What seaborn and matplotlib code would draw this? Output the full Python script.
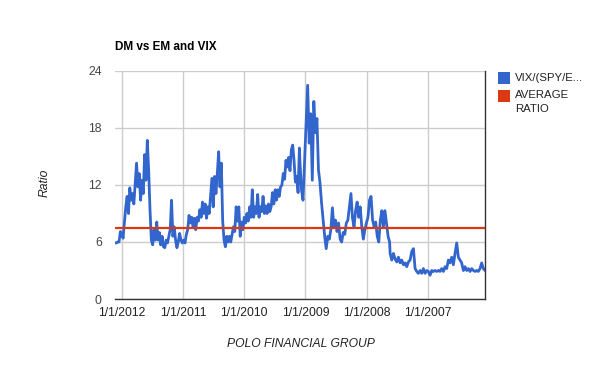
import numpy as np
import pandas as pd
import seaborn as sns
import matplotlib.pyplot as plt
from matplotlib.patches import Rectangle

# ratio readings, newest (left) to oldest (right), in three blocks
ratio_2012_2009 = [
    5.9, 5.9, 6.0, 6.0, 7.1, 6.9, 6.4, 8.0, 9.7, 10.8, 9.0, 11.7, 10.4, 11.1, 10.0, 12.2,
    14.3, 11.8, 13.2, 10.4, 12.5, 11.1, 15.2, 12.5, 16.7, 13.6, 9.4, 6.2, 5.7, 7.3, 6.2,
    8.1, 6.2, 7.0, 5.7, 6.6, 5.5, 5.4, 6.2, 5.9, 6.6, 7.3, 10.4, 6.6, 7.6, 6.2, 5.4, 6.0,
    6.9, 6.2, 5.9, 6.2, 5.9, 6.8, 7.3, 8.8, 8.0, 8.6, 7.6, 8.5, 7.3, 8.6, 8.2, 9.4, 8.6,
    10.2, 9.0, 10.0, 8.5, 9.7, 9.0, 10.8, 12.7, 9.7, 12.9, 11.1, 13.2, 15.5, 11.8, 14.3,
    8.2, 6.2, 5.5, 6.6, 6.0, 6.6, 6.0, 6.8, 7.6, 7.1, 9.7, 8.2, 9.7, 6.6, 8.1, 7.3, 8.6,
    8.0, 9.0, 8.2, 9.7, 8.6, 11.5, 8.6, 9.7, 9.0, 11.0, 8.6, 9.7, 9.2, 10.8, 9.0, 9.8,
    9.0, 10.0, 9.2, 9.7, 11.2, 10.0, 11.5, 10.4, 11.5, 10.8, 11.8, 12.0, 13.2, 12.6,
    14.6, 13.9, 14.9, 13.5, 15.7, 16.2, 14.6, 12.3, 12.9, 11.2, 15.9,
]
ratio_2009_2007 = [
    14.5, 11.5, 10.4, 14.6, 18.5, 22.5, 16.4, 19.5, 12.5, 20.8, 17.5, 19.0, 13.6, 12.2,
    10.1, 8.3, 6.6, 5.3, 6.6, 6.3, 7.3, 9.6, 7.6, 8.3, 7.1, 8.0, 6.3, 6.0, 7.0, 6.8, 8.0,
    8.3, 9.7, 11.1, 8.5, 7.6, 9.3, 10.2, 8.6, 9.7, 7.6, 6.3, 7.3, 8.0, 8.6, 10.4, 10.8,
    8.3, 7.6, 8.1, 6.6, 6.0, 8.3, 9.3, 7.6, 9.3, 8.0, 6.6, 6.0,
]
ratio_2007_2006 = [
    4.8, 4.1, 4.8, 4.2, 3.9, 4.4, 3.8, 4.1, 3.6, 3.8, 3.4, 3.9, 4.1, 5.0, 5.3, 3.2, 2.9,
    2.7, 3.0, 2.7, 3.2, 2.7, 3.0, 2.9, 2.5, 3.0, 2.9, 3.0, 2.9, 3.0, 2.9, 3.2, 2.9, 3.4,
    3.2, 4.1, 3.8, 4.4, 3.6, 4.8, 5.9, 4.4, 4.1, 3.8, 3.0, 3.4, 3.0, 3.2, 2.9, 3.2, 3.0,
    2.9, 3.0, 2.9, 3.2, 3.8, 3.2, 3.0,
]
block_dates = [
    ("2012-02-11", "2009-02-06"),
    ("2009-02-03", "2007-08-18"),
    ("2007-08-15", "2006-01-26"),
]
average_ratio = 7.5
year_ticks = ["2012-01-01", "2011-01-01", "2010-01-01", "2009-01-01", "2008-01-01", "2007-01-01"]
tick_labels = ["1/1/2012", "1/1/2011", "1/1/2010", "1/1/2009", "1/1/2008", "1/1/2007"]
y_ticks = [0, 6, 12, 18, 24]

blocks = [ratio_2012_2009, ratio_2009_2007, ratio_2007_2006]
frames = []
for vals, (start, end) in zip(blocks, block_dates):
    d = pd.date_range(start, end, periods=len(vals))
    frames.append(pd.DataFrame({"date": d, "ratio": vals}))
df = pd.concat(frames, ignore_index=True)

sns.set_style("white")
plt.rcParams["font.family"] = ["Liberation Sans", "DejaVu Sans"]

fig = plt.figure(figsize=(6, 3.71), dpi=100)
ax = fig.add_axes([115 / 600, 1 - 299 / 371, 370 / 600, 228 / 371])

sns.lineplot(data=df, x="date", y="ratio", ax=ax, color="#3366cc", linewidth=2.0)
ax.axhline(average_ratio, color="#dc3912", linewidth=1.6, zorder=3)

ax.set_ylim(0, 24)
ax.set_yticks(y_ticks)
ax.set_xlim(df["date"].max(), df["date"].min())
ax.set_xticks(pd.to_datetime(year_ticks))
ax.set_xticklabels(tick_labels)
ax.grid(True, color="#cccccc", linewidth=1)
ax.set_axisbelow(True)

ax.tick_params(axis="y", length=0, pad=9.5, labelsize=8.7, labelcolor="#444444")
ax.tick_params(axis="x", length=0, pad=6, labelsize=8.7, labelcolor="#222222")

for s in ["left", "top"]:
    ax.spines[s].set_visible(False)
for s in ["bottom", "right"]:
    ax.spines[s].set_color("#333333")
    ax.spines[s].set_linewidth(1)

ax.set_xlabel("")
ax.set_ylabel("")
fig.text(115 / 600, 1 - 47 / 371, "DM vs EM and VIX", fontsize=8.5, fontweight="bold",
         ha="left", va="center", color="#000000")
fig.text(301 / 600, 1 - 344 / 371, "POLO FINANCIAL GROUP", fontsize=8.7, style="italic",
         ha="center", va="center", color="#222222")
fig.text(45 / 600, 1 - 183 / 371, "Ratio", fontsize=8.7, style="italic", rotation=90,
         ha="center", va="center", color="#222222")

# legend
fig.add_artist(Rectangle((498 / 600, 1 - 84 / 371), 12 / 600, 12 / 371,
                         transform=fig.transFigure, color="#3366cc", lw=0))
fig.add_artist(Rectangle((498 / 600, 1 - 102 / 371), 12 / 600, 12 / 371,
                         transform=fig.transFigure, color="#dc3912", lw=0))
fig.text(515 / 600, 1 - 78 / 371, "VIX/(SPY/E...", fontsize=8.2, ha="left", va="center",
         color="#222222")
fig.text(515 / 600, 1 - 90 / 371, "AVERAGE\nRATIO", fontsize=8.2, ha="left", va="top",
         color="#222222", linespacing=1.5)

fig.savefig("out.png", dpi=100)
